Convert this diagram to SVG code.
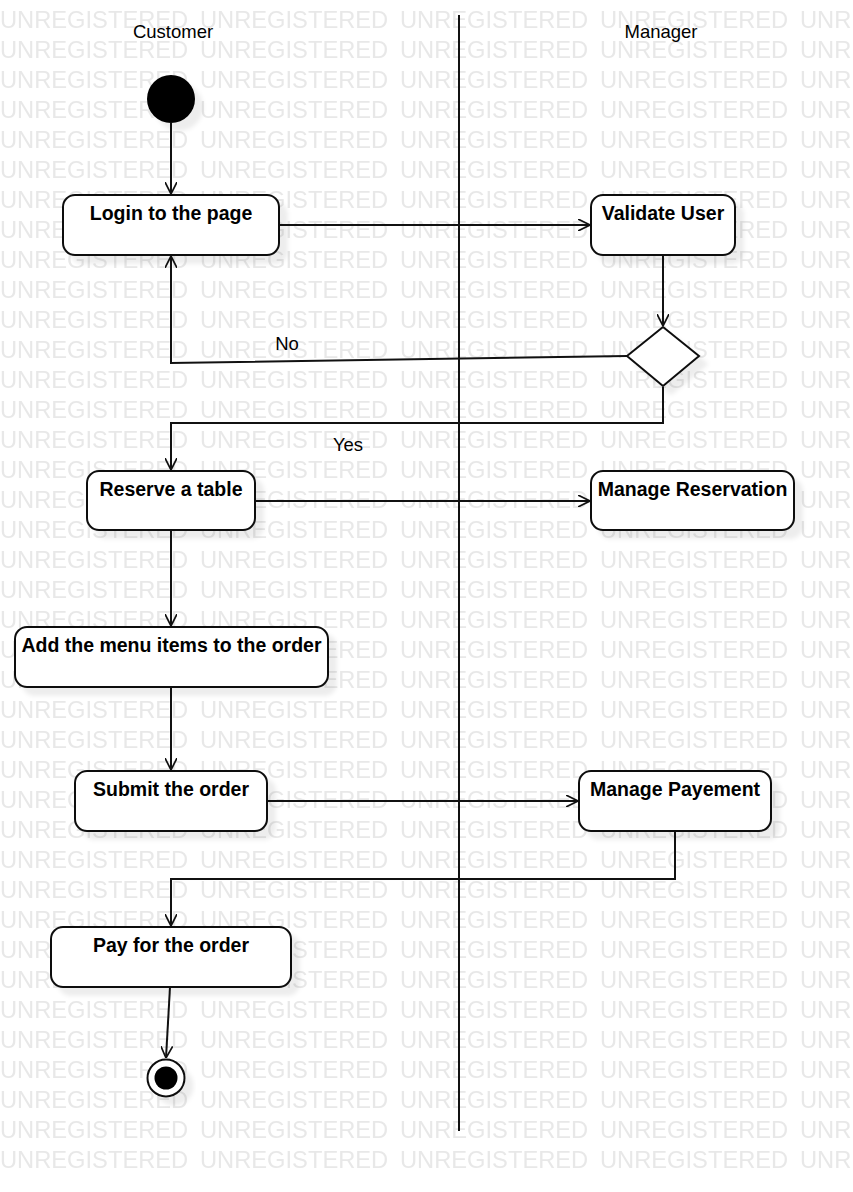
<svg xmlns="http://www.w3.org/2000/svg" width="853" height="1192" viewBox="0 0 853 1192">
<style>
.wm{font-family:"Liberation Sans",Arial,sans-serif;font-size:23.7px;fill:#e8e8e8}
.lane{font-family:"Liberation Sans",Arial,sans-serif;font-size:18.5px;fill:#000}
.lbl{font-family:"Liberation Sans",Arial,sans-serif;font-size:18.5px;fill:#000}
.nt{font-family:"Liberation Sans",Arial,sans-serif;font-size:19.5px;font-weight:bold;fill:#000;text-anchor:middle}
.box{fill:#fff;stroke:#111;stroke-width:2;filter:url(#sh)}
.con{fill:none;stroke:#111;stroke-width:2;marker-end:url(#arr)}
</style>
<defs>
<pattern id="wmp" x="0" y="0" width="200" height="30" patternUnits="userSpaceOnUse">
<text class="wm" x="0" y="28">UNREGISTERED</text>
</pattern>
<filter id="sh" x="-20%" y="-20%" width="150%" height="160%">
<feGaussianBlur in="SourceAlpha" stdDeviation="2"/>
<feOffset dx="8" dy="8" result="b"/>
<feFlood flood-color="#000" flood-opacity="0.07"/>
<feComposite in2="b" operator="in" result="s"/>
<feMerge><feMergeNode in="s"/><feMergeNode in="SourceGraphic"/></feMerge>
</filter>
<marker id="arr" viewBox="0 0 10 10" refX="10" refY="5" markerWidth="12" markerHeight="12" markerUnits="userSpaceOnUse" orient="auto">
<path d="M0,0 L10,5 L0,10" fill="none" stroke="#111" stroke-width="1.4"/>
</marker>
</defs>
<rect x="0" y="0" width="853" height="1192" fill="#fff"/>
<rect x="0" y="0" width="853" height="1172" fill="url(#wmp)"/>
<g id="lanes">
<text class="lane" x="173" y="38" text-anchor="middle">Customer</text>
<text class="lane" x="661" y="38" text-anchor="middle">Manager</text>
<line x1="459" y1="15" x2="459" y2="1131" stroke="#111" stroke-width="2"/>
</g>
<g id="connectors">
<path class="con" d="M171,123 L171,194"/>
<path class="con" d="M279,225 L590,225"/>
<path class="con" d="M663,255 L663,326"/>
<path class="con" d="M627,356 L171,363 L171,256"/>
<path class="con" d="M663,387 L663,423 L171,423 L171,470"/>
<path class="con" d="M255,501 L590,501"/>
<path class="con" d="M171,530 L171,626"/>
<path class="con" d="M171,687 L171,770"/>
<path class="con" d="M267,801 L578,801"/>
<path class="con" d="M675,831 L675,879 L171,879 L171,926"/>
<path class="con" d="M170,987 L166,1058"/>
<text class="lbl" x="287" y="350" text-anchor="middle">No</text>
<text class="lbl" x="348" y="451" text-anchor="middle">Yes</text>
</g>
<g id="start"><circle cx="171" cy="99" r="24" fill="#000" filter="url(#sh)"/></g>
<g id="login"><rect class="box" x="63" y="195" width="216" height="60" rx="12"/><text class="nt" x="171" y="220">Login to the page</text></g>
<g id="validate"><rect class="box" x="591" y="195" width="144" height="60" rx="12"/><text class="nt" x="663" y="220">Validate User</text></g>
<g id="decision"><path class="box" d="M663,327 L699,356 L663,386 L627,356 Z"/></g>
<g id="reserve"><rect class="box" x="87" y="471" width="168" height="59" rx="12"/><text class="nt" x="171" y="496">Reserve a table</text></g>
<g id="manageReservation"><rect class="box" x="591" y="471" width="203" height="59" rx="12"/><text class="nt" x="692.5" y="496">Manage Reservation</text></g>
<g id="addMenu"><rect class="box" x="15" y="627" width="313" height="60" rx="12"/><text class="nt" x="171.5" y="652">Add the menu items to the order</text></g>
<g id="submit"><rect class="box" x="75" y="771" width="192" height="60" rx="12"/><text class="nt" x="171" y="796">Submit the order</text></g>
<g id="managePayement"><rect class="box" x="579" y="771" width="192" height="60" rx="12"/><text class="nt" x="675" y="796">Manage Payement</text></g>
<g id="pay"><rect class="box" x="51" y="927" width="240" height="60" rx="12"/><text class="nt" x="171" y="952">Pay for the order</text></g>
<g id="end"><circle cx="166" cy="1078" r="18.5" fill="#fff" stroke="#111" stroke-width="2" filter="url(#sh)"/><circle cx="166" cy="1078" r="11.5" fill="#000"/></g>
</svg>
